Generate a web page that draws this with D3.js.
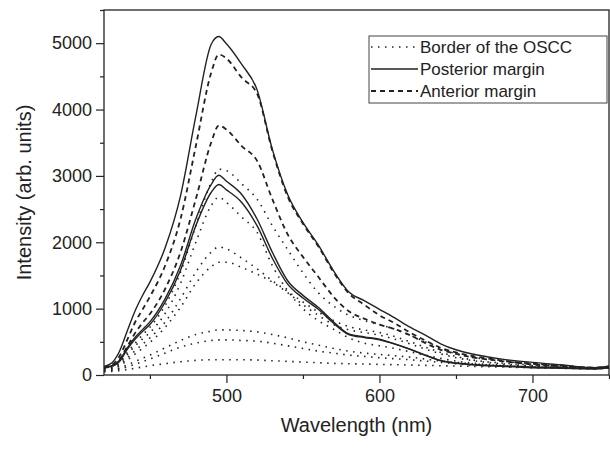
<!DOCTYPE html>
<html>
<head>
<meta charset="utf-8">
<script src="https://cdn.jsdelivr.net/npm/d3@7"></script>
<style>
  body { margin: 0; background: #fff; }
  text { font-family: "Liberation Sans", Arial, sans-serif; fill: #222; }
</style>
</head>
<body>
<div id="chart"></div>
<script>
const wavelengths = [420,425,430,435,440,445,450,460,470,480,490,495,500,510,520,530,540,550,560,570,580,590,600,610,620,630,640,650,660,680,700,720,740,750];

// posterior margin (solid)
const posterior1 = [130,180,350,650,950,1190,1400,1920,2700,3900,4980,5100,4990,4680,4300,3400,2720,2300,1960,1570,1250,1120,990,860,720,600,470,380,320,240,190,150,110,130];
const posterior2 = [120,140,220,400,560,680,800,1150,1650,2350,2870,3010,2920,2720,2350,1850,1420,1200,1020,800,620,575,540,470,390,300,220,180,160,140,120,110,100,120];
const posterior3 = [110,130,200,380,530,650,760,1100,1580,2250,2750,2870,2790,2600,2250,1760,1370,1160,990,780,610,565,530,465,385,295,215,175,155,130,110,100,90,110];

// anterior margin (dashed)
const anterior1 = [120,150,280,520,780,980,1180,1650,2350,3450,4550,4830,4770,4480,4240,3380,2690,2280,1940,1550,1230,1060,900,780,640,520,410,340,290,220,170,140,110,130];
const anterior2 = [110,130,230,420,620,780,920,1300,1850,2650,3500,3760,3700,3450,3230,2650,2120,1780,1480,1180,960,850,760,690,600,480,380,320,270,210,160,130,110,130];

// border of the OSCC (dotted)
const border1 = [100,120,190,330,470,600,720,1050,1550,2250,2900,3100,3080,2880,2650,2250,1890,1540,1240,1040,900,820,760,690,600,500,400,320,270,210,170,140,110,120];
const border2 = [100,110,170,300,430,540,640,930,1380,2000,2550,2680,2600,2380,2150,1650,1270,1000,820,690,560,480,440,400,350,300,250,210,180,150,130,110,100,110];
const border3 = [90,100,150,250,360,460,560,800,1150,1550,1850,1930,1900,1760,1600,1420,1260,1100,950,820,730,680,640,580,500,420,340,280,230,180,150,120,100,110];
const border4 = [80,90,130,220,310,400,490,720,1020,1380,1630,1700,1700,1620,1520,1400,1240,1060,900,760,680,640,600,540,470,390,320,260,220,170,140,120,100,110];
const border5 = [70,80,100,150,200,250,300,410,520,610,660,680,680,670,650,610,560,500,450,400,360,330,310,290,270,240,210,190,170,140,120,110,100,110];
const border6 = [60,70,90,120,160,200,240,330,420,480,520,530,530,520,510,480,440,400,360,330,300,280,260,245,230,210,190,170,150,130,115,105,95,105];
const border7 = [50,55,65,80,100,120,140,170,200,220,230,230,230,230,225,215,205,195,185,175,170,165,160,155,150,145,140,135,130,120,110,100,95,105];

const legendLabels = ["Border of the OSCC", "Posterior margin", "Anterior margin"];
const xTicks = [500, 600, 700];
const xMinorTicks = [450, 550, 650, 750];
const yTicks = [0, 1000, 2000, 3000, 4000, 5000];
const yMinorTicks = [500, 1500, 2500, 3500, 4500, 5500];

const styles = {
  dotted: { dash: "1.5,5.5", width: 1.6 },
  solid: { dash: null, width: 1.4 },
  dashed: { dash: "5,4", width: 1.8 }
};

const series = [
  { values: border1, style: "dotted" },
  { values: border2, style: "dotted" },
  { values: border3, style: "dotted" },
  { values: border4, style: "dotted" },
  { values: border5, style: "dotted" },
  { values: border6, style: "dotted" },
  { values: border7, style: "dotted" },
  { values: anterior1, style: "dashed" },
  { values: anterior2, style: "dashed" },
  { values: posterior1, style: "solid" },
  { values: posterior2, style: "solid" },
  { values: posterior3, style: "solid" }
];

const margin = { top: 10, right: 1, bottom: 74, left: 104 };
const width = 610 - margin.left - margin.right;
const height = 449 - margin.top - margin.bottom;

const svg = d3.select("#chart")
  .append("svg")
  .attr("width", width + margin.left + margin.right)
  .attr("height", height + margin.top + margin.bottom)
  .append("g")
  .attr("transform", `translate(${margin.left},${margin.top})`);

const x = d3.scaleLinear().domain([420, 750]).range([0, width]);
const y = d3.scaleLinear().domain([0, 5500]).range([height, 0]);

svg.append("clipPath").attr("id", "clip")
  .append("rect").attr("width", width).attr("height", height);

const line = d3.line()
  .x((d, i) => x(wavelengths[i]))
  .y(d => y(d))
  .curve(d3.curveMonotoneX);

svg.append("g")
  .attr("clip-path", "url(#clip)")
  .selectAll("path")
  .data(series)
  .join("path")
  .attr("d", d => line(d.values))
  .attr("fill", "none")
  .attr("stroke", "#222")
  .attr("stroke-width", d => styles[d.style].width)
  .attr("stroke-dasharray", d => styles[d.style].dash);

// axes
svg.append("g")
  .attr("transform", `translate(0,${height})`)
  .call(d3.axisBottom(x).tickValues(xTicks).tickSize(8).tickPadding(6));
svg.append("g")
  .attr("transform", `translate(0,${height})`)
  .call(d3.axisBottom(x).tickValues(xMinorTicks).tickSize(4).tickFormat(""));

svg.append("g")
  .call(d3.axisLeft(y).tickValues(yTicks).tickSize(8).tickPadding(4).tickFormat(d3.format("d")));
svg.append("g")
  .call(d3.axisLeft(y).tickValues(yMinorTicks).tickSize(4).tickFormat(""));

svg.selectAll(".domain").remove();
svg.selectAll(".tick line").attr("stroke", "#222").attr("stroke-width", 1.2);
svg.selectAll(".tick text").style("font-size", "18px").attr("fill", "#222");

svg.append("rect")
  .attr("width", width)
  .attr("height", height)
  .attr("fill", "none")
  .attr("stroke", "#222")
  .attr("stroke-width", 1.3);

svg.append("text")
  .attr("x", width / 2)
  .attr("y", height + 57)
  .attr("text-anchor", "middle")
  .style("font-size", "20px")
  .text("Wavelength (nm)");

svg.append("text")
  .attr("x", -height / 2)
  .attr("y", -73)
  .attr("transform", "rotate(-90)")
  .attr("text-anchor", "middle")
  .style("font-size", "20px")
  .text("Intensity (arb. units)");

// legend
const legend = svg.append("g").attr("transform", `translate(${369 - margin.left},${36 - margin.top})`);
legend.append("rect")
  .attr("width", 238)
  .attr("height", 67)
  .attr("fill", "#fff")
  .attr("stroke", "#444")
  .attr("stroke-width", 1);

const legendStyles = ["dotted", "solid", "dashed"];
legendLabels.forEach((label, i) => {
  const cy = 11 + i * 22;
  legend.append("line")
    .attr("x1", 2).attr("x2", 49)
    .attr("y1", cy).attr("y2", cy)
    .attr("stroke", "#222")
    .attr("stroke-width", styles[legendStyles[i]].width)
    .attr("stroke-dasharray", styles[legendStyles[i]].dash);
  legend.append("text")
    .attr("x", 51)
    .attr("y", cy + 6)
    .style("font-size", "17px")
    .text(label);
});
</script>
</body>
</html>
